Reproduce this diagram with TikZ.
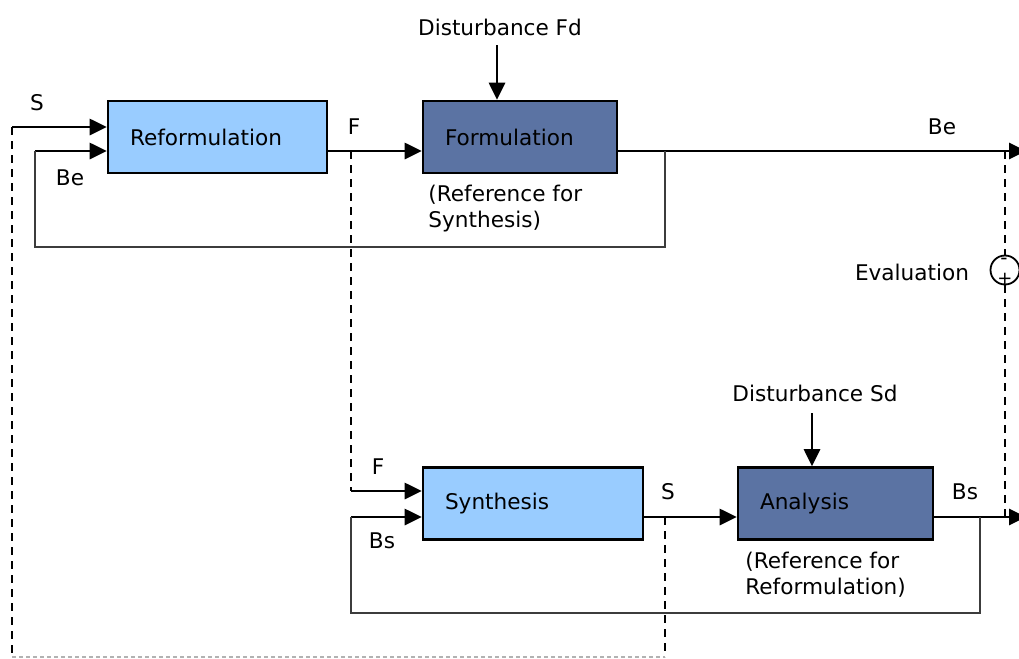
\documentclass[tikz,border=0pt]{standalone}
\usepackage{fontspec}
\setmainfont{DejaVu Sans}
\usetikzlibrary{arrows.meta}
\definecolor{lightbox}{RGB}{153,204,255}
\definecolor{darkbox}{RGB}{91,115,163}
\definecolor{fbline}{RGB}{60,60,60}
\begin{document}
\begin{tikzpicture}[x=0.5pt,y=-0.5pt,
  font=\fontsize{10.8}{13}\selectfont,
  box/.style={draw=black, line width=1.3pt, minimum height=36pt, align=left, inner xsep=11pt, inner ysep=0pt},
  lbox/.style={box, fill=lightbox},
  dbox/.style={box, fill=darkbox},
  arr/.style={line width=1.4pt, -{Triangle[length=8.5pt,width=8pt]}},
  fb/.style={line width=1.1pt, draw=fbline},
  dashline/.style={line width=1.2pt, dash pattern=on 4pt off 3pt},
  faint/.style={line width=0.6pt, draw=black!30, dash pattern=on 2pt off 1.5pt},
  lab/.style={inner sep=0pt},
  note/.style={align=left, inner sep=0pt, anchor=west}
]
\useasboundingbox (0,0) rectangle (1019,659);

% boxes
\node[lbox, text width=87.5pt] (ref) at (217.5,137) {Reformulation};
\node[dbox, text width=75pt] (form) at (520,137) {Formulation};
\node[lbox, text width=88pt] (syn) at (533,503.5) {Synthesis};
\node[dbox, text width=75.5pt] (ana) at (835.5,503.5) {Analysis};

% disturbances
\node[lab] (dfd) at (500,27) {Disturbance Fd};
\node[lab] (dsd) at (815,393) {Disturbance Sd};
\coordinate (fdtop) at (497,45);
\coordinate (sdtop) at (812,413);
\draw[arr] (fdtop) -- (fdtop |- form.north);
\draw[arr] (sdtop) -- (sdtop |- ana.north);

% labels
\node[lab] (lS1) at (37,103) {S};
\node[lab] (lBe1) at (70,178) {Be};
\node[lab] (lF1) at (354,127) {F};
\node[lab] (lBe2) at (942,127) {Be};
\node[lab] (lEv) at (912,272) {Evaluation};
\node[lab] (lF2) at (378,467) {F};
\node[lab] (lBs1) at (382,541) {Bs};
\node[lab] (lS2) at (668,492) {S};
\node[lab] (lBs2) at (965,492) {Bs};
\node[note] (n1) at (428,209) {(Reference for\\Synthesis)};
\node[note] (n2) at (745,575) {(Reference for\\Reformulation)};

% coordinates
\coordinate (sIn) at (12,127);
\coordinate (beIn) at (35,151);
\coordinate (fSplit) at (351,151);
\coordinate (beJ) at (665,151);
\coordinate (beEnd) at (1026,151);
\coordinate (fb1) at (35,247);
\coordinate (fb2) at (665,247);
\coordinate (evTop) at (1005,151);
\coordinate (evBot) at (1005,517);
\coordinate (synF) at (351,491);
\coordinate (synB) at (351,517);
\coordinate (sSplit) at (665,517);
\coordinate (bsJ) at (980,517);
\coordinate (bsEnd) at (1026,517);
\coordinate (fb3) at (351,613);
\coordinate (fb4) at (980,613);
\coordinate (bot1) at (665,657);
\coordinate (bot2) at (12,657);

% evaluation circle
\node[draw, circle, line width=0.9pt, minimum size=14.5pt, inner sep=0pt] (ev) at (1005,270) {};
\node[lab, font=\fontsize{10}{10}\selectfont] (evMinus) at (1004,261) {-};
\node[lab, font=\fontsize{9}{9}\selectfont] (evPlus) at (1005,279) {+};

% top row
\draw[arr] (sIn) -- (sIn -| ref.west);
\draw[arr] (beIn) -- (beIn -| ref.west);
\draw[arr] (ref.east |- fSplit) -- (fSplit -| form.west);
\draw[arr] (form.east |- beJ) -- (beEnd);
\draw[fb] (beJ) -- (fb2) -- (fb1) -- (beIn);

% bottom row
\draw[arr] (synF) -- (synF -| syn.west);
\draw[arr] (synB) -- (synB -| syn.west);
\draw[arr] (syn.east |- sSplit) -- (sSplit -| ana.west);
\draw[arr] (ana.east |- bsJ) -- (bsEnd);
\draw[fb] (bsJ) -- (fb4) -- (fb3) -- (synB);

% dashed links
\draw[dashline] (fSplit) -- (synF);
\draw[dashline] (sIn) -- (bot2);
\draw[dashline] (sSplit) -- (bot1);
\draw[faint] (bot2) -- (bot1);
\draw[dashline] (evTop) -- (ev.north);
\draw[dashline] (ev.south) -- (evBot);
\end{tikzpicture}
\end{document}
